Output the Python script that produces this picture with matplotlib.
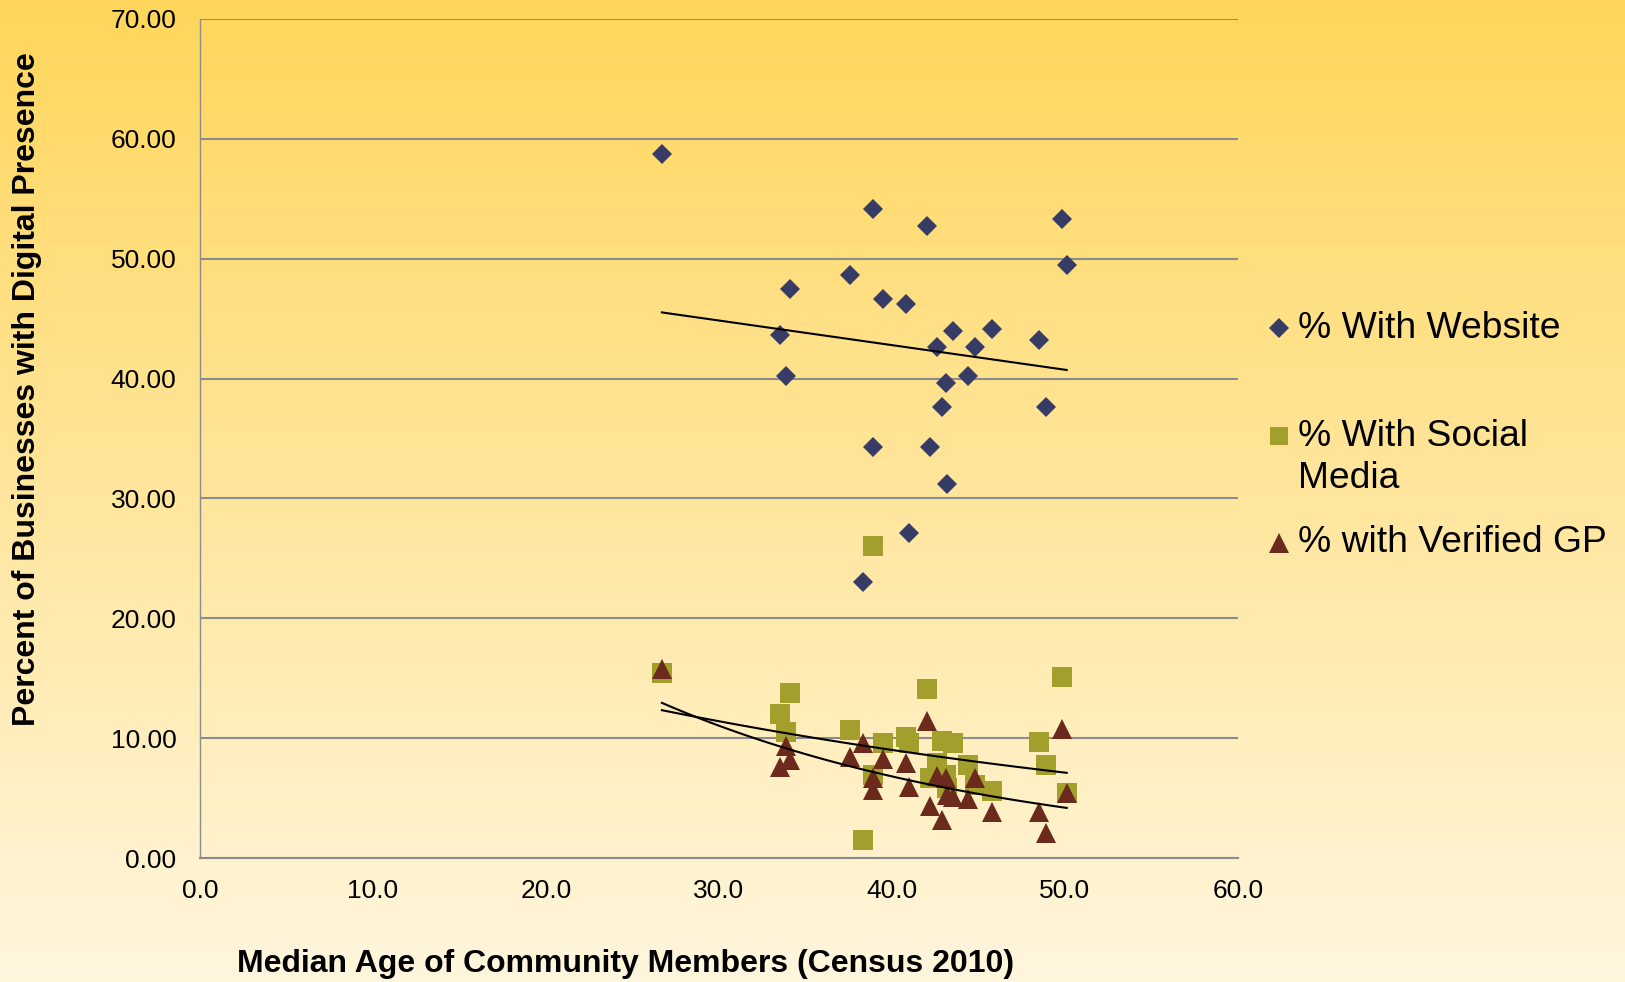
import matplotlib
matplotlib.use("Agg")
import matplotlib.pyplot as plt
import numpy as np
from matplotlib.lines import Line2D

plt.rcParams['font.family'] = ['Liberation Sans', 'DejaVu Sans']

# median age of each community and share of businesses online
ages = [26.7, 33.5, 33.9, 34.1, 37.6, 38.3, 38.9, 38.9, 39.5, 40.8, 41.0, 42.0, 42.2,
        42.6, 42.9, 43.1, 43.2, 43.5, 44.4, 44.8, 45.8, 48.5, 48.9, 49.8, 50.1]
website = [58.7, 43.65, 40.2, 47.5, 48.6, 23.0, 54.15, 34.3, 46.65, 46.2, 27.1, 52.7, 34.3,
           42.6, 37.6, 39.6, 31.2, 44.0, 40.2, 42.6, 44.1, 43.2, 37.6, 53.3, 49.5]
social = [15.4, 12.05, 10.5, 13.8, 10.7, 1.5, 26.0, 6.9, 9.6, 10.1, 9.6, 14.1, 6.65,
          7.9, 9.75, 6.9, 5.8, 9.6, 7.75, 6.1, 5.6, 9.7, 7.76, 15.1, 5.45]
verified_gp = [15.8, 7.6, 9.34, 8.17, 8.45, 9.6, 6.65, 5.67, 8.3, 7.95, 5.9, 11.4, 4.3,
               6.8, 3.17, 6.7, 5.25, 5.1, 4.9, 6.65, 3.87, 3.87, 2.1, 10.76, 5.4]

labels = ['% With Website', '% With Social\nMedia', '% with Verified GP']
colors = ['#373c66', '#a39f2d', '#6b2a1c']

x = np.array(ages)
W, H = 1625, 982
fig = plt.figure(figsize=(W / 100, H / 100), dpi=100)

# gold-to-cream backdrop
bg = fig.add_axes([0, 0, 1, 1], zorder=-10)
top = np.array([255, 214, 91]) / 255
bottom = np.array([255, 246, 222]) / 255
t = np.linspace(0, 1, 256)[:, None]
grad = (top * (1 - t) + bottom * t)[:, None, :]
bg.imshow(grad, aspect='auto', extent=[0, 1, 0, 1])
bg.axis('off')

ax = fig.add_axes([200 / W, 1 - 858 / H, 1038 / W, 839 / H])
ax.set_facecolor('none')

ax.plot(x, website, 'D', color=colors[0], markersize=10.2, markeredgewidth=0, zorder=3)
ax.plot(x, social, 's', color=colors[1], markersize=14, markeredgewidth=0, zorder=3)
ax.plot(x, verified_gp, '^', color=colors[2], markersize=14.5, markeredgewidth=0, zorder=3)

# trendlines: linear for websites, exponential for the other two
xs = np.linspace(x.min(), x.max(), 100)
k, b = np.polyfit(x, website, 1)
ax.plot(xs, k * xs + b, color='black', lw=1.5, zorder=4)
for ys in (social, verified_gp):
    k, b = np.polyfit(x, np.log(ys), 1)
    ax.plot(xs, np.exp(b + k * xs), color='black', lw=1.5, zorder=4)

ax.set_xlim(0, 60)
ax.set_ylim(0, 70)
ax.set_xticks(np.arange(0, 61, 10))
ax.set_yticks(np.arange(0, 71, 10))
ax.set_xticklabels([f'{v:.1f}' for v in np.arange(0, 61, 10)])
ax.set_yticklabels([f'{v:.2f}' for v in np.arange(0, 71, 10)])
ax.tick_params(length=0, labelsize=19, colors='black')
ax.tick_params(axis='y', pad=17)
ax.tick_params(axis='x', pad=15)
ax.grid(axis='y', color='#8c8c8c', lw=1.5, zorder=1)
for s in ('top', 'right'):
    ax.spines[s].set_visible(False)
ax.spines['left'].set_color('#8c8c8c')
ax.spines['left'].set_linewidth(1)
ax.spines['bottom'].set_color('#8c8c8c')
ax.spines['bottom'].set_linewidth(1.5)

fig.text(27 / W, 1 - 389 / H, 'Percent of Businesses with Digital Presence',
         rotation=90, ha='center', va='center', fontsize=23, fontweight='bold')
fig.text(626 / W, 1 - 964 / H, 'Median Age of Community Members (Census 2010)',
         ha='center', va='center', fontsize=23, fontweight='bold')

# legend drawn by hand so the two-line label keeps its marker on the first line
markers = [('D', 10), ('s', 13.5), ('^', 14)]
rows = [[328], [436, 479], [543]]
for (m, ms), c, lab, ys in zip(markers, colors, labels, rows):
    fig.add_artist(Line2D([1279 / W], [1 - ys[0] / H], marker=m, color=c,
                          markersize=ms, markeredgewidth=0, linestyle='none'))
    for line, yy in zip(lab.split('\n'), ys):
        fig.text(1298 / W, 1 - yy / H, line, ha='left', va='center', fontsize=26.8)

fig.savefig('out.png', dpi=100)
